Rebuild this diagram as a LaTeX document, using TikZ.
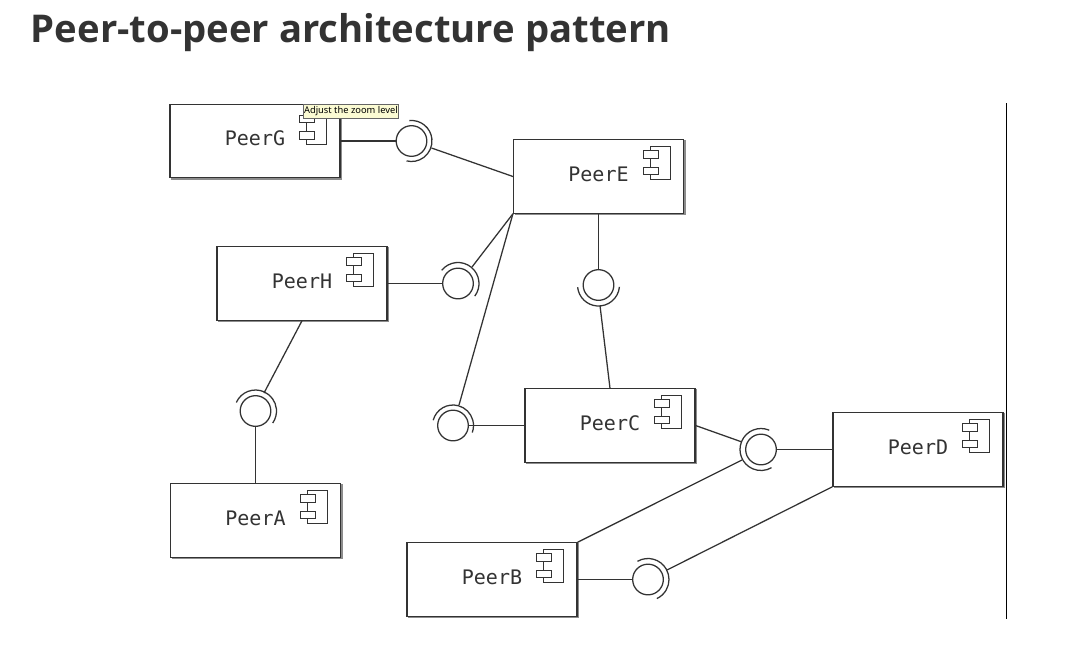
\documentclass[tikz,border=0pt]{standalone}
\usepackage{fontspec}
\setmainfont{Liberation Sans}
\newfontfamily\titlefont{Open Sans}
\newfontfamily\labelfont{DejaVu Sans Mono}
\newfontfamily\tipfont{Noto Sans}
\usetikzlibrary{calc}
\definecolor{ink}{HTML}{333333}
\definecolor{tipfill}{HTML}{FBFBD3}
\tikzset{
  peer/.style={draw=ink,line width=.85pt,fill=white,minimum width=127.5pt,minimum height=55pt,inner sep=0pt,
     text height=11pt,text depth=4.2pt,
     font=\labelfont\fontsize{15pt}{16pt}\selectfont,text=ink},
  wire/.style={draw=ink,line width=.95pt},
  lolly/.style={circle,draw=ink,line width=.95pt,fill=white,minimum size=23pt,inner sep=0pt},
  socketarc/.style={draw=ink,line width=.95pt},
  iconline/.style={draw=ink,line width=.85pt,fill=white},
  shadowbox/.style={draw=black!45,line width=1.2pt},
}
\newcommand{\peerbox}[3]{%
  \draw[shadowbox] ($(#2,#3)+(-84,-35.5)$) -- ($(#2,#3)+(86.3,-35.5)$) -- ($(#2,#3)+(86.3,38)$) -- ($(#2,#3)+(-84,38)$);
  \node[peer] (#1) at (#2,#3) {Peer\MakeUppercase{#1}};
  \draw[iconline] ($(#1.north east)+(-34,7)$) rectangle ($(#1.north east)+(-14,40.5)$);
  \draw[iconline] ($(#1.north east)+(-41,11.5)$) rectangle ($(#1.north east)+(-26,19)$);
  \draw[iconline] ($(#1.north east)+(-41,28)$) rectangle ($(#1.north east)+(-26,35.5)$);
}
\newcommand{\socket}[4]{% centre name, start, end, radius
  \draw[socketarc] (#1) ++(#2:#4) arc[start angle=#2,end angle=#3,radius=#4];
}
\begin{document}
\begin{tikzpicture}[x=.75pt,y=.75pt,yscale=-1]
\useasboundingbox (0,0) rectangle (1081,665);
\fill[white] (0,0) rectangle (1081,665);
\node[anchor=base west,inner sep=0pt,text=ink,font=\titlefont\bfseries\fontsize{28.7pt}{32pt}\selectfont] (title) at (30.5,42.5) {Peer-to-peer architecture pattern};

\peerbox{g}{255}{141}
\peerbox{e}{598.5}{176.5}
\peerbox{h}{302}{283.5}
\peerbox{c}{610}{425.5}
\peerbox{d}{918}{449.5}
\peerbox{a}{255.5}{520.5}
\peerbox{b}{492}{579.5}

\node[lolly] (ig) at (411.5,141) {};
\node[lolly] (ih) at (458,283.5) {};
\node[lolly] (ia) at (255.5,411) {};
\node[lolly] (ic) at (453,425.5) {};
\node[lolly] (ie) at (598.5,285) {};
\node[lolly] (id) at (761,449.5) {};
\node[lolly] (ib) at (648,579.5) {};

\socket{ig}{-96}{104}{20.5}
\socket{ih}{-141}{37}{21}
\socket{ia}{-156}{35}{21}
\socket{ic}{-165}{20}{20.5}
\socket{ie}{5}{174}{21}
\socket{id}{-67}{-300}{21}
\socket{ib}{-120}{65}{21}

\coordinate (sg) at (431.5,148);
\coordinate (sh) at (472,267);
\coordinate (sa) at (264,393);
\coordinate (sc) at (459,405);
\coordinate (se) at (600,305.5);
\coordinate (sd1) at (742,442);
\coordinate (sd2) at (742,460);
\coordinate (sb) at (667,570);
\coordinate (scw) at (468,425.5);

\draw[wire] (g.east) -- (ig.west);
\draw[wire] (sg) -- (e.west);
\draw[wire] (h.east) -- (ih.west);
\draw[wire] (sh) -- (e.south west);
\draw[wire] (sc) -- (e.south west);
\draw[wire] (c.west) -- (scw);
\draw[wire] (e.south) -- (ie.north);
\draw[wire] (se) -- (c.north);
\draw[wire] (h.south) -- (sa);
\draw[wire] (ia.south) -- (a.north);
\draw[wire] (c.east) -- (sd1);
\draw[wire] (b.north east) -- (sd2);
\draw[wire] (id.east) -- (d.west);
\draw[wire] (b.east) -- (ib.west);
\draw[wire] (sb) -- (d.south west);

\coordinate (railtop) at (1006.5,103);
\coordinate (railend) at (1006.5,619);
\draw[draw=black,line width=1.1pt] (railtop) -- (railend);

\node[anchor=north west,draw=black!60,line width=.4pt,fill=tipfill,inner sep=0pt,minimum width=71.5pt,minimum height=10.5pt,text=black,font=\tipfont\fontsize{7pt}{8pt}\selectfont] (tip) at (303,103.5) {Adjust the zoom level};
\end{tikzpicture}
\end{document}
